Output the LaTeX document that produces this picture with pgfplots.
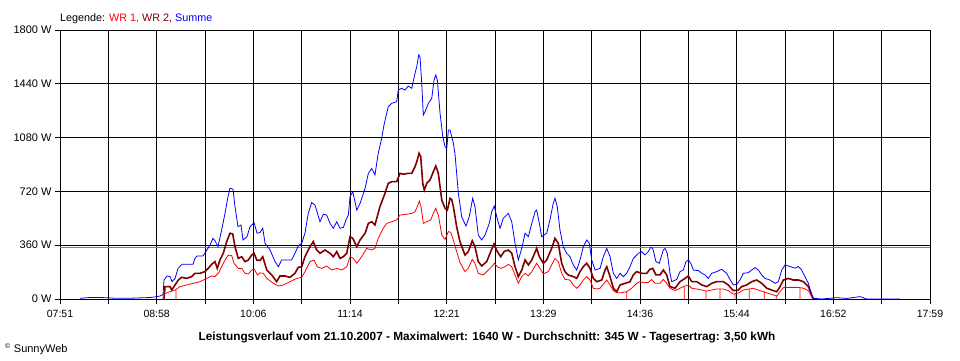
\documentclass[border=0pt]{standalone}
\usepackage{fontspec}
\setmainfont{Liberation Sans}
\usepackage{pgfplots}
\pgfplotsset{compat=1.18}
\definecolor{wrone}{RGB}{255,0,0}
\definecolor{wrtwo}{RGB}{128,0,0}
\definecolor{summe}{RGB}{0,0,255}
\definecolor{avgline}{RGB}{128,128,128}
\begin{document}
\begin{tikzpicture}
\begin{axis}[
  scale only axis, width=870pt, height=269pt,
  xmin=471, xmax=1079, ymin=0, ymax=1800,
  xtick={471,538.56,606.11,673.67,741.22,808.78,876.33,943.89,1011.44,1079},
  xticklabels={07:51,08:58,10:06,11:14,12:21,13:29,14:36,15:44,16:52,17:59},
  minor xtick={504.78,572.33,639.89,707.44,775.0,842.56,910.11,977.67,1045.22},
  ytick={0,360,720,1080,1440,1800},
  yticklabels={0 W,360 W,720 W,1080 W,1440 W,1800 W},
  grid=both,
  major grid style={black, line width=0.9pt},
  minor grid style={black, line width=0.9pt},
  tick style={black, line width=0.9pt},
  major tick length=5pt, minor tick length=5pt,
  tick align=outside,
  xtick pos=bottom, ytick pos=left,
  axis line style={black, line width=0.9pt},
  xticklabel style={font=\fontsize{10.5}{12}\selectfont, yshift=-3pt},
  yticklabel style={font=\fontsize{11}{12}\selectfont},
]
\addplot[avgline, line width=0.8pt] coordinates {(471,345) (1079,345)};
% WR 2
\addplot[wrtwo, line width=1.6pt] coordinates {
(543.7,0) (544.4,83) (547.9,83) (549.1,60) (551.4,94) (553.7,127) (556.0,145) (559.5,138) (563.0,150) (565.3,172) (568.8,172) (572.3,183) (574.6,205) (577.0,232) (579.3,250) (580.9,205) (582.8,261) (585.1,306) (587.5,384) (589.8,440) (591.7,435) (593.3,350) (595.6,272) (598.0,283) (600.3,250) (602.6,261) (605.0,294) (606.6,306) (608.5,261) (610.8,258) (612.7,283) (615.5,194) (619.0,161) (622.4,116) (624.7,154) (628.2,154) (631.7,145) (635.2,172) (637.5,212) (639.9,216) (642.2,283) (645.7,350) (648.0,384) (650.4,328) (652.7,306) (656.2,328) (659.7,306) (662.0,283) (664.4,317) (666.7,272) (669.0,283) (671.4,306) (673.7,417) (675.6,406) (678.4,350) (680.7,395) (684.2,440) (686.5,506) (688.8,517) (691.1,495) (694.6,618) (698.1,707) (700.4,774) (702.8,785) (706.3,785) (708.6,841) (710.9,835) (714.4,841) (716.8,841) (719.1,885) (720.7,930) (721.9,975) (723.1,953) (724.5,774) (725.6,729) (727.3,774) (729.6,796) (731.9,852) (733.6,890) (735.4,841) (737.8,662) (740.1,607) (741.7,595) (743.6,674) (744.7,667) (745.9,618) (748.2,484) (750.5,384) (754.0,294) (756.3,317) (759.1,390) (761.0,350) (763.3,250) (765.7,221) (769.2,250) (772.0,317) (774.3,368) (776.6,317) (779.0,283) (781.3,317) (784.3,328) (786.7,306) (789.0,216) (791.3,149) (793.7,194) (796.0,261) (798.3,228) (800.7,261) (804.1,339) (806.0,283) (808.8,239) (811.1,261) (814.6,339) (816.9,406) (819.2,373) (821.6,239) (823.9,183) (826.2,161) (829.7,150) (832.1,138) (834.4,183) (836.7,216) (839.1,239) (841.4,205) (843.7,138) (846.1,116) (849.6,127) (851.9,194) (853.1,216) (855.4,150) (857.7,72) (860.1,49) (862.4,94) (865.9,105) (869.3,115) (871.7,161) (874.0,183) (877.5,172) (881.0,172) (883.3,199) (885.2,205) (887.5,161) (890.3,161) (892.6,194) (895.0,161) (897.3,83) (900.8,72) (904.3,116) (907.8,138) (910.1,154) (912.5,116) (916.0,116) (919.5,94) (923.0,83) (926.4,105) (929.9,116) (934.6,116) (938.0,94) (941.5,56) (945.0,60) (947.4,83) (950.9,94) (954.4,116) (957.9,127) (961.4,105) (964.9,72) (968.4,60) (971.9,49) (974.2,83) (976.5,127) (980.0,138) (983.5,127) (987.0,127) (990.5,116) (994.0,83) (996.3,27) (997.4,0)
};
% WR 1
\addplot[wrone, line width=0.8pt] coordinates {
(543.0,0) (543.2,33) (547.9,49) (551.4,60) (552.1,62) (552.1,0) (552.1,65) (554.9,83) (559.5,94) (564.2,105) (568.8,116) (573.5,138) (577.0,154) (579.3,150) (581.6,172) (584.0,216) (586.3,261) (588.6,294) (591.0,290) (592.6,239) (595.6,205) (598.0,205) (600.3,172) (602.6,168) (605.0,194) (606.8,200) (608.9,161) (610.8,175) (613.1,172) (615.5,138) (620.1,105) (623.6,87) (627.1,94) (631.7,116) (636.4,138) (639.9,145) (642.2,183) (645.7,250) (648.5,261) (650.8,216) (653.9,205) (657.4,221) (660.9,194) (664.4,205) (667.9,194) (671.4,216) (673.7,283) (676.0,272) (678.4,239) (681.8,283) (685.3,339) (688.8,328) (691.1,339) (693.4,406) (696.9,473) (699.3,506) (702.8,517) (706.3,529) (708.6,562) (713.3,567) (716.8,573) (719.1,584) (720.7,618) (722.1,656) (723.3,618) (724.9,506) (727.3,517) (730.1,529) (731.9,573) (733.6,607) (735.4,562) (737.8,428) (740.1,399) (742.4,451) (744.0,446) (745.9,395) (748.2,317) (750.5,245) (754.0,183) (756.3,205) (759.1,265) (761.0,239) (763.3,172) (766.8,161) (770.3,194) (772.7,216) (774.5,239) (776.6,216) (779.0,205) (782.0,216) (784.3,232) (786.7,216) (789.0,161) (791.3,105) (793.7,150) (796.0,172) (798.3,155) (800.7,183) (804.1,239) (806.4,205) (808.8,168) (812.2,183) (814.6,228) (816.9,272) (819.2,250) (821.6,172) (823.9,131) (827.4,127) (829.7,94) (832.1,72) (834.4,94) (836.7,127) (839.1,149) (841.4,127) (843.7,72) (846.1,67) (848.4,72) (851.2,105) (853.1,127) (855.4,94) (857.7,56) (860.1,42) (863.5,42) (867.0,49) (867.0,0) (867.0,49) (870.5,72) (874.0,105) (876.3,116) (878.6,109) (882.1,111) (884.5,131) (886.8,105) (890.3,105) (892.6,131) (895.0,105) (897.3,72) (900.8,56) (904.3,72) (907.3,85) (907.3,0) (907.3,85) (910.1,94) (912.5,72) (916.0,67) (919.5,60) (922.5,53) (922.5,0) (922.5,53) (926.4,60) (929.9,67) (932.2,67) (932.2,0) (932.2,67) (934.6,67) (938.0,56) (941.5,33) (942.7,35) (942.7,0) (942.7,35) (945.0,40) (948.5,60) (952.0,67) (952.7,67) (952.7,0) (952.7,67) (955.5,72) (959.0,60) (962.5,49) (963.2,47) (963.2,0) (963.2,47) (966.0,38) (969.5,27) (971.9,20) (971.9,0) (971.9,20) (974.2,49) (976.5,76) (981.2,78) (985.8,78) (988.1,76) (988.1,0) (988.1,76) (990.5,72) (994.0,56) (996.3,15) (997.4,0)
};
% Summe
\addplot[summe, line width=0.8pt] coordinates {
(485.0,5) (492.0,10) (499.0,10) (504.5,8) (509.4,5) (519.9,5) (533.9,10) (537.4,14) (540.9,20) (543.0,30) (543.7,127) (545.8,154) (547.9,150) (549.3,116) (551.4,138) (553.5,205) (556.3,232) (564.0,232) (565.3,272) (566.7,288) (570.9,288) (573.7,328) (575.8,361) (577.9,406) (579.3,390) (581.4,350) (584.2,473) (586.3,573) (588.4,685) (589.8,741) (591.9,735) (593.3,618) (595.4,484) (597.5,495) (598.9,395) (601.7,417) (603.8,484) (606.6,511) (608.7,440) (610.8,445) (612.7,473) (614.3,373) (617.8,328) (621.3,250) (623.6,216) (625.9,261) (632.9,261) (635.2,306) (637.5,355) (639.9,373) (642.2,440) (644.5,573) (646.9,645) (649.2,629) (652.7,517) (655.0,567) (657.4,562) (659.7,506) (662.0,473) (664.4,517) (666.7,473) (669.0,479) (670.9,529) (672.5,562) (673.7,685) (675.6,718) (678.4,595) (680.7,640) (684.2,741) (686.5,841) (688.8,874) (691.1,830) (693.4,975) (695.8,1075) (697.4,1164) (700.4,1287) (702.8,1309) (706.3,1320) (707.4,1398) (709.8,1410) (712.1,1398) (714.4,1425) (716.8,1410) (719.1,1510) (720.3,1554) (721.7,1633) (722.6,1621) (723.8,1443) (724.9,1231) (726.1,1253) (728.4,1309) (730.8,1343) (732.4,1465) (733.6,1499) (734.7,1465) (736.6,1242) (738.5,1087) (740.1,1019) (741.3,1008) (742.4,1131) (743.6,1131) (745.9,1042) (747.0,975) (749.4,707) (751.7,551) (754.7,488) (757.0,551) (759.4,674) (761.0,618) (763.3,428) (765.7,395) (768.0,428) (771.0,506) (772.7,584) (774.5,622) (776.2,551) (778.5,473) (780.8,540) (784.3,573) (786.7,517) (789.0,373) (791.3,261) (793.7,339) (796.0,440) (798.3,417) (800.7,506) (803.0,584) (804.1,595) (806.0,506) (807.6,417) (811.1,440) (813.4,529) (815.7,640) (816.9,674) (818.5,618) (820.4,462) (822.7,350) (825.1,306) (827.4,283) (829.7,228) (832.1,194) (834.4,261) (836.7,350) (839.1,395) (840.9,373) (842.6,261) (844.9,194) (848.4,205) (850.7,283) (853.1,339) (855.4,283) (857.7,172) (860.1,138) (862.4,172) (864.7,150) (867.0,172) (869.3,215) (871.7,272) (875.2,306) (877.5,317) (879.8,295) (882.1,317) (883.8,346) (885.2,339) (887.5,250) (889.8,239) (892.6,328) (893.8,339) (895.4,306) (897.3,172) (898.5,116) (902.0,131) (904.3,183) (906.6,194) (908.5,250) (910.1,261) (911.8,239) (913.6,194) (917.1,190) (919.5,172) (921.8,161) (924.1,138) (926.4,172) (929.9,183) (933.4,199) (936.9,172) (939.2,131) (941.5,94) (943.9,98) (946.2,127) (948.5,172) (952.0,176) (954.4,194) (956.7,210) (959.0,194) (961.4,161) (963.7,138) (967.2,127) (970.7,105) (973.0,116) (975.4,194) (977.7,228) (981.2,217) (984.7,206) (987.0,217) (989.3,194) (991.6,149) (994.0,105) (996.3,27) (997.4,5) (1003.3,0) (1013.8,9) (1020.8,4) (1030.1,16) (1034.8,0) (1058.0,0)
};
\end{axis}
\node[anchor=base west, inner sep=0, font=\fontsize{10.8}{12}\selectfont] at (0pt,278pt) {Legende: \textcolor{wrone}{WR 1,} \textcolor{wrtwo}{WR 2,} \textcolor{summe}{Summe}};
\node[anchor=base, inner sep=0, font=\fontsize{11.8}{14}\selectfont\bfseries] at (427pt,-41pt) {Leistungsverlauf vom 21.10.2007 - Maximalwert: 1640 W - Durchschnitt: 345 W - Tagesertrag: 3,50 kWh};
\node[anchor=base west, inner sep=0, font=\fontsize{11}{12}\selectfont] at (-55pt,-53pt) {\textsuperscript{\scriptsize©} SunnyWeb};
\pgfresetboundingbox
\path[use as bounding box] (-60pt,-61pt) rectangle (900pt,299pt);
\end{tikzpicture}
\end{document}
